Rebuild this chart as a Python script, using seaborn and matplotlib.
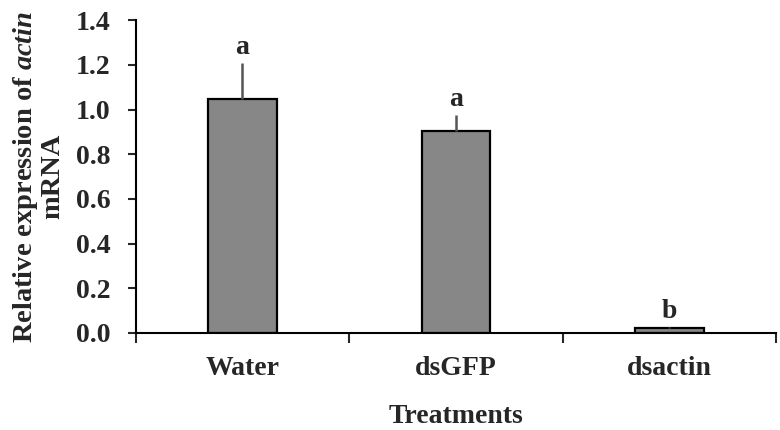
import numpy as np
import pandas as pd
import matplotlib
matplotlib.use("Agg")
import matplotlib.pyplot as plt
import seaborn as sns

# Data
treatments = ["Water", "dsGFP", "dsactin"]
expression = [1.045, 0.905, 0.022]
errors = [0.165, 0.07, 0.004]
letters = ["a", "a", "b"]

df = pd.DataFrame({"Treatment": treatments, "Expression": expression})

sns.set_style("ticks")
plt.rcParams["font.family"] = ["Liberation Serif", "DejaVu Serif"]
plt.rcParams["font.weight"] = "bold"
plt.rcParams["mathtext.fontset"] = "custom"
plt.rcParams["mathtext.rm"] = "Liberation Serif:bold"
plt.rcParams["mathtext.it"] = "Liberation Serif:italic:bold"

fig, ax = plt.subplots(figsize=(7.8, 4.3), dpi=100)
fig.subplots_adjust(left=0.174, right=0.995, bottom=0.226, top=0.953)

sns.barplot(data=df, x="Treatment", y="Expression", color="#878787",
            saturation=1, width=0.32, edgecolor="black", linewidth=1.6,
            errorbar=None, ax=ax)

#Upper error bars only
x = np.arange(len(treatments))
ax.errorbar(x, expression, yerr=[np.zeros(len(errors)), errors], fmt="none",
            ecolor="#555555", elinewidth=1.8, capsize=0, zorder=1)

#Significance letters
for xi, m, e, lab in zip(x, expression, errors, letters):
    ax.text(xi, m + e + 0.04, lab, ha="center", va="baseline",
            fontsize=20, fontweight="bold")

ax.set_ylim(0, 1.4)
ax.set_yticks(np.arange(0, 1.41, 0.2))
ax.set_yticklabels([f"{v:.1f}" for v in np.arange(0, 1.41, 0.2)])
ax.set_xlim(-0.5, 2.5)

#Excel style boundary ticks on the x axis
ax.set_xticks(x)
ax.set_xticks([-0.5, 0.5, 1.5, 2.5], minor=True)
ax.tick_params(axis="x", which="major", length=0, pad=17, labelsize=20)
ax.tick_params(axis="x", which="minor", length=7, width=1.5, direction="out")
ax.tick_params(axis="y", length=6, width=1.5, labelsize=20, pad=12)

for s in ["top", "right"]:
    ax.spines[s].set_visible(False)
for s in ["left", "bottom"]:
    ax.spines[s].set_linewidth(1.5)
    ax.spines[s].set_color("black")

ax.set_xlabel("Treatments", fontsize=20, fontweight="bold", labelpad=16)
ax.set_ylabel("Relative expression of $\\mathit{actin}$\nmRNA", fontsize=20.5,
              fontweight="bold", labelpad=8, linespacing=1.0)

fig.savefig("out.png", dpi=100)
